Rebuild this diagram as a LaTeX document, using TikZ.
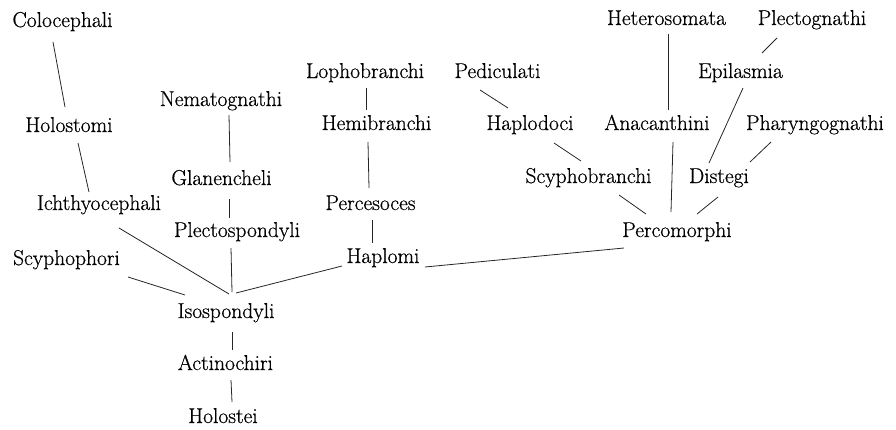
\documentclass[tikz,border=0pt]{standalone}
\usepackage{fontspec}
\setmainfont{Latin Modern Roman}[FakeBold=0.6]
\begin{document}
\begin{tikzpicture}[x=1pt,y=-1pt,
  taxon/.style={inner sep=0pt,anchor=base,font=\fontsize{21.5}{24}\selectfont},
  link/.style={line width=0.8pt,black!85}]
\useasboundingbox (0,0) rectangle (896,429);
\node[taxon] (colo) at (62.5,27) {Colocephali};
\node[taxon] (holostomi) at (69,132) {Holostomi};
\node[taxon] (ichthyo) at (99,210) {Ichthyocephali};
\node[taxon] (scyphoph) at (66.5,265) {Scyphophori};
\node[taxon] (nemato) at (221,106) {Nematognathi};
\node[taxon] (glan) at (221.5,185) {Glanencheli};
\node[taxon] (plecto) at (237,237) {Plectospondyli};
\node[taxon] (iso) at (226,318) {Isospondyli};
\node[taxon] (actino) at (225.5,370) {Actinochiri};
\node[taxon] (holostei) at (223,423) {Holostei};
\node[taxon] (lopho) at (365,78) {Lophobranchi};
\node[taxon] (hemi) at (376.5,130) {Hemibranchi};
\node[taxon] (perces) at (370.5,210) {Percesoces};
\node[taxon] (haplomi) at (383,263) {Haplomi};
\node[taxon] (pedic) at (497.5,78) {Pediculati};
\node[taxon] (haplodoci) at (530,130) {Haplodoci};
\node[taxon] (scyphob) at (588.5,183) {Scyphobranchi};
\node[taxon] (hetero) at (666.5,25) {Heterosomata};
\node[taxon] (plectog) at (812,25) {Plectognathi};
\node[taxon] (epilas) at (740.5,78) {Epilasmia};
\node[taxon] (anacan) at (657,130) {Anacanthini};
\node[taxon] (pharyng) at (815,130) {Pharyngognathi};
\node[taxon] (distegi) at (719,183) {Distegi};
\node[taxon] (percom) at (677,237) {Percomorphi};

\draw[link] ([shift={(-9.5,15)}]colo.base) -- ([shift={(-4,-25)}]holostomi.base);
\draw[link] ([shift={(9,11)}]holostomi.base) -- ([shift={(-10,-18)}]ichthyo.base);
\draw[link] ([shift={(20,18)}]ichthyo.base) -- ([shift={(3,-24)}]iso.base);
\draw[link] ([shift={(61.5,12)}]scyphoph.base) -- ([shift={(-41,-23)}]iso.base);
\draw[link] ([shift={(8,9)}]nemato.base) -- ([shift={(8.5,-23)}]glan.base);
\draw[link] ([shift={(7.5,14)}]glan.base) -- ([shift={(-8,-19)}]plecto.base);
\draw[link] ([shift={(-6,11)}]plecto.base) -- ([shift={(6,-26)}]iso.base);
\draw[link] ([shift={(-41,3)}]haplomi.base) -- ([shift={(10,-25)}]iso.base);
\draw[link] ([shift={(6,14)}]iso.base) -- ([shift={(6.5,-20)}]actino.base);
\draw[link] ([shift={(5.5,10)}]actino.base) -- ([shift={(9,-21)}]holostei.base);
\draw[link] ([shift={(1,10)}]lopho.base) -- ([shift={(-10.5,-20)}]hemi.base);
\draw[link] ([shift={(-8.5,12)}]hemi.base) -- ([shift={(-1.5,-22)}]perces.base);
\draw[link] ([shift={(1.5,10)}]perces.base) -- ([shift={(-11,-20)}]haplomi.base);
\draw[link] ([shift={(-17.5,12)}]pedic.base) -- ([shift={(-22,-22)}]haplodoci.base);
\draw[link] ([shift={(24,13)}]haplodoci.base) -- ([shift={(-7.5,-22)}]scyphob.base);
\draw[link] ([shift={(42,4)}]haplomi.base) -- ([shift={(-53,11)}]percom.base);
\draw[link] ([shift={(1.5,9)}]hetero.base) -- ([shift={(11,-20)}]anacan.base);
\draw[link] ([shift={(-35,13)}]plectog.base) -- ([shift={(21.5,-25)}]epilas.base);
\draw[link] ([shift={(2.5,10)}]epilas.base) -- ([shift={(-10,-20)}]distegi.base);
\draw[link] ([shift={(16,12)}]anacan.base) -- ([shift={(-6,-25)}]percom.base);
\draw[link] ([shift={(-44,12)}]pharyng.base) -- ([shift={(31,-21)}]distegi.base);
\draw[link] ([shift={(30.5,12)}]scyphob.base) -- ([shift={(-31,-23)}]percom.base);
\draw[link] ([shift={(-1,14)}]distegi.base) -- ([shift={(20,-23)}]percom.base);
\end{tikzpicture}
\end{document}
